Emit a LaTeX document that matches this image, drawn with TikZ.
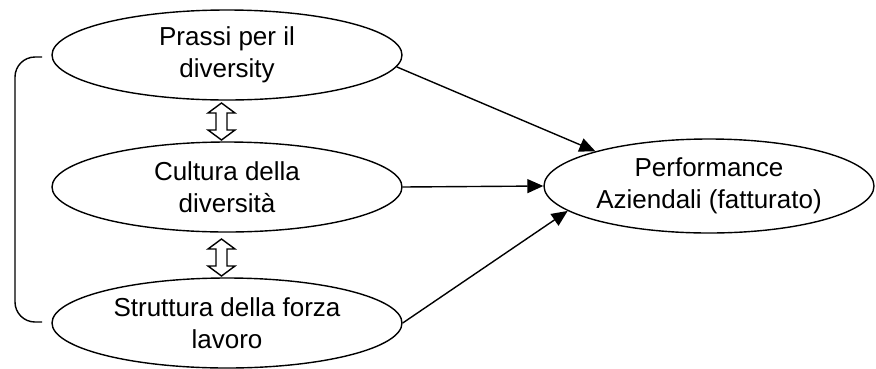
\documentclass[tikz,border=0pt]{standalone}
\usepackage{fontspec}
\setmainfont{Liberation Sans}
\usetikzlibrary{shapes.geometric,arrows.meta}
\begin{document}
\begin{tikzpicture}[x=1pt,y=-1pt,
  oval/.style={ellipse,draw,line width=1.4pt,inner sep=0pt,align=center,
    font=\fontsize{26}{32}\selectfont},
  conn/.style={line width=1.4pt,-{Triangle[length=16pt,width=14pt]}},
  dblarrow/.style={draw,fill=white,line width=1.4pt,line join=miter}]
\useasboundingbox (0,0) rectangle (876,368);
\node[oval,minimum width=350pt,minimum height=90pt] (A) at (227,55) {Prassi per il\\diversity};
\node[oval,minimum width=350pt,minimum height=90pt] (B) at (227,187) {Cultura della\\diversità};
\node[oval,minimum width=350pt,minimum height=90pt] (C) at (227,323) {Struttura della forza\\lavoro};
\node[oval,minimum width=330pt,minimum height=94pt] (P) at (709,186) {Performance\\Aziendali (fatturato)};
\coordinate (d1) at (221.5,121.5);
\coordinate (d2) at (221.5,257.5);
\foreach \c in {d1,d2}{
  \draw[dblarrow] (\c) ++(0,-18.5) -- ++(13.5,10) -- ++(-8,0) -- ++(0,17) -- ++(8,0)
    -- ++(-13.5,10) -- ++(-13.5,-10) -- ++(8,0) -- ++(0,-17) -- ++(-8,0) -- cycle;
}
\draw[conn] (A.-4) -- (P.163);
\draw[conn] (B.east) -- (P.west);
\draw[conn] (C.east) -- (P.190);
\coordinate (b1) at (42,57);
\coordinate (b2) at (42,322);
\draw[line width=1.4pt,rounded corners=20pt] (b1) -- (15,57) -- (15,322) -- (b2);
\end{tikzpicture}
\end{document}
